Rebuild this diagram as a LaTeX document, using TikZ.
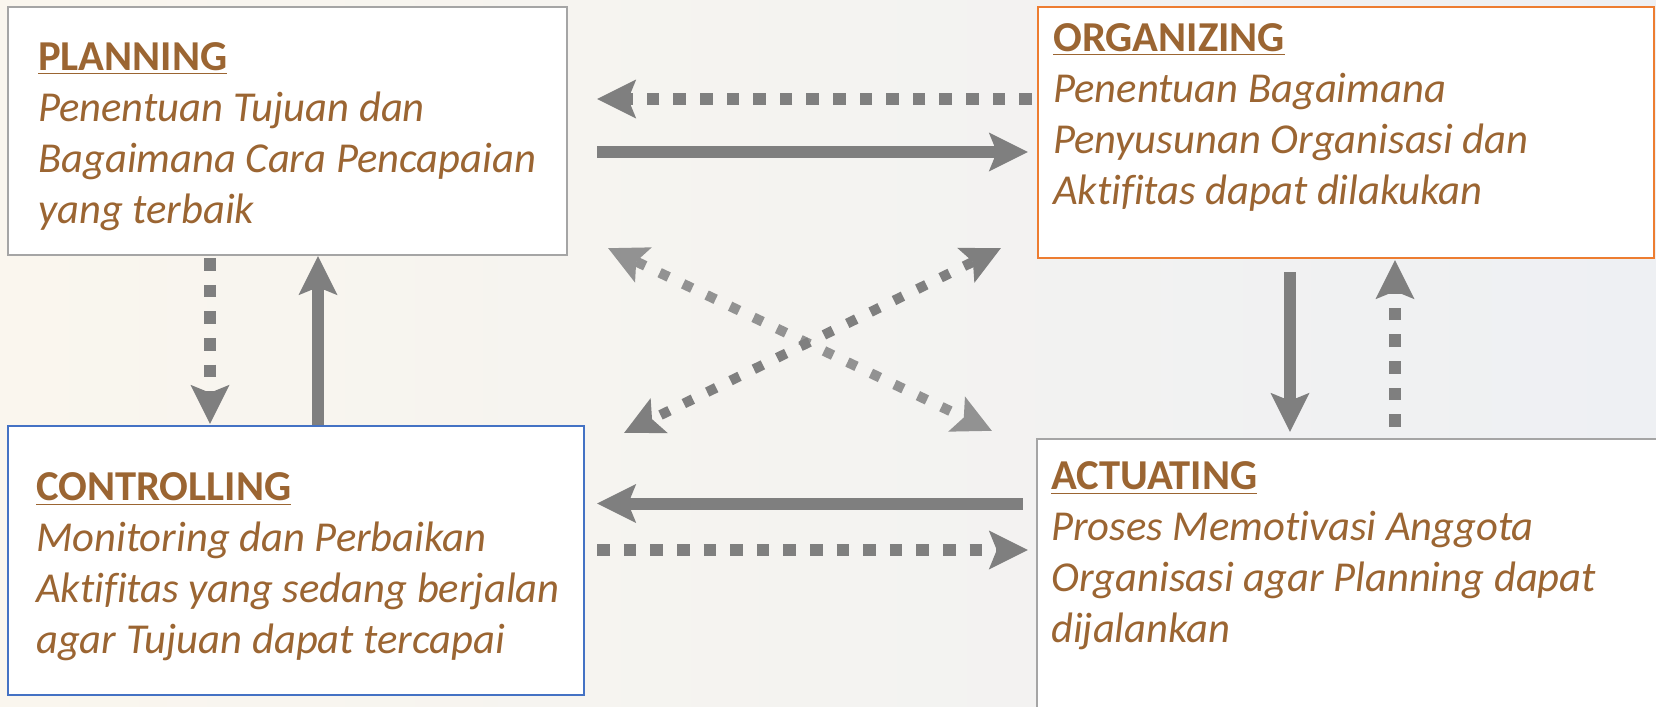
\documentclass[tikz,border=0pt]{standalone}
\usepackage{fontspec}
\setmainfont{Carlito}[Ligatures=NoCommon]
\usepackage{xcolor}
\usepackage{tikz}
\usetikzlibrary{positioning,arrows.meta}

\definecolor{textbrown}{RGB}{155,101,50}
\definecolor{arrowgray}{RGB}{127,127,127}
\definecolor{lightgray}{RGB}{146,146,146}
\definecolor{boxgray}{RGB}{165,165,165}
\definecolor{boxorange}{RGB}{237,125,49}
\definecolor{boxblue}{RGB}{68,114,196}

\begin{document}
\begin{tikzpicture}[x=0.5pt, y=-0.5pt, >={Stealth[length=19.5pt, width=19.5pt, inset=4pt, line width=0pt]}]
            \tikzstyle{box} = [draw, fill=white, line width=1.2pt, inner sep=0pt]
            \tikzstyle{desc} = [anchor=base west, align=left, inner sep=0pt, text=textbrown, font=\fontsize{21.3}{25.5}\selectfont\itshape]
            \tikzstyle{solidarrow} = [draw=arrowgray, line width=6pt, ->]
            \tikzstyle{dotarrow} = [draw=arrowgray, line width=6.3pt, dash pattern=on 6.3pt off 7pt, ->]
            \tikzstyle{crossarrow} = [line width=5pt, dash pattern=on 5pt off 8pt, <->]

            \useasboundingbox (0,0) rectangle (1656,707);
            \shade[left color={rgb,255:red,250;green,246;blue,238}, right color={rgb,255:red,238;green,240;blue,243}] (0,0) rectangle (1656,707);

            \node [box, draw=boxgray, minimum width=279.5pt, minimum height=124pt] (Plan) at (287.5,131) {};
            \node [box, draw=boxorange, minimum width=308pt, minimum height=125.5pt] (Org) at (1346,132.5) {};
            \node [box, draw=boxblue, minimum width=288pt, minimum height=134.5pt] (Ctrl) at (296,560.5) {};
            \node [box, draw=boxgray, minimum width=314.5pt, minimum height=139pt] (Act) at (1351.5,578) {};

            % base anchor sits on the last line
            \node [desc] (PlanText) at ([shift={(15.5pt,-109pt)}]Plan.north west)
                {\textbf{\upshape\underline{PLANNING}}\\ Penentuan Tujuan dan\\ Bagaimana Cara Pencapaian\\ yang terbaik};
            \node [desc] (OrgText) at ([shift={(8pt,-99.5pt)}]Org.north west)
                {\textbf{\upshape\underline{ORGANIZING}}\\ Penentuan Bagaimana\\ Penyusunan Organisasi dan\\ Aktifitas dapat dilakukan};
            \node [desc] (CtrlText) at ([shift={(14.5pt,-114.5pt)}]Ctrl.north west)
                {\textbf{\upshape\underline{CONTROLLING}}\\ Monitoring dan Perbaikan\\ Aktifitas yang sedang berjalan\\ agar Tujuan dapat tercapai};
            \node [desc] (ActText) at ([shift={(7.5pt,-102.5pt)}]Act.north west)
                {\textbf{\upshape\underline{ACTUATING}}\\ Proses Memotivasi Anggota\\ Organisasi agar Planning dapat\\ dijalankan};

            \draw [dotarrow] ([shift={(-2.5pt,16.75pt)}]Org.west) to ([shift={(14.5pt,16pt)}]Plan.east);
            \draw [solidarrow] ([shift={(14.5pt,-10.5pt)}]Plan.east) to ([shift={(-4.5pt,-9.75pt)}]Org.west);
            \draw [dotarrow] ([shift={(-38.75pt,-1pt)}]Plan.south) to ([shift={(-43pt,0.5pt)}]Ctrl.north);
            \draw [solidarrow] ([shift={(11pt,0pt)}]Ctrl.north) to ([shift={(15.25pt,0pt)}]Plan.south);
            \draw [solidarrow] ([shift={(-28pt,-6.5pt)}]Org.south) to ([shift={(-30.75pt,3pt)}]Act.north);
            \draw [dotarrow] ([shift={(21.75pt,5.5pt)}]Act.north) to ([shift={(24.5pt,-0.5pt)}]Org.south);
            \draw [solidarrow] ([shift={(-6.5pt,37.25pt)}]Act.west) to ([shift={(6pt,28.5pt)}]Ctrl.east);
            \draw [dotarrow] ([shift={(6pt,5.25pt)}]Ctrl.east) to ([shift={(-4pt,14pt)}]Act.west);
            \draw [crossarrow, draw=lightgray] ([shift={(20pt,4pt)}]Plan.south east) to ([shift={(-22pt,3.5pt)}]Act.north west);
            \draw [crossarrow, draw=arrowgray] ([shift={(-18pt,5.5pt)}]Org.south west) to ([shift={(19.5pt,-4pt)}]Ctrl.north east);
        \end{tikzpicture}
\end{document}
